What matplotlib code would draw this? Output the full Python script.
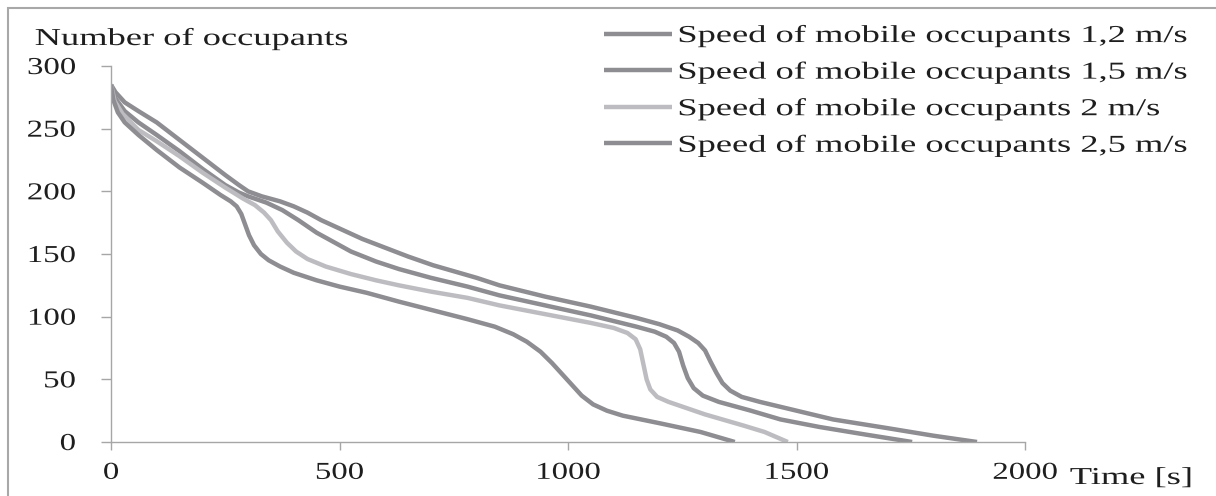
import matplotlib
matplotlib.use('Agg')
import matplotlib.pyplot as plt
import matplotlib.patheffects as pe
from matplotlib.patches import Rectangle
from matplotlib.transforms import Affine2D

# evacuation curves: number of occupants left in the building over time
t_12 = [0, 10, 30, 60, 100, 150, 200, 250, 280, 300, 330, 370, 400, 430, 460, 490, 550, 600, 650, 705,
        800, 850, 950, 1050, 1150, 1200, 1240, 1265, 1285, 1300, 1312, 1325, 1338, 1355, 1380, 1420,
        1500, 1580, 1700, 1800, 1895]
n_12 = [285, 279, 271, 264, 255, 241, 227, 213, 205, 200, 196, 192, 188, 183, 177, 172, 162, 155, 148, 141,
        131, 125, 116, 108, 99, 94, 89, 84, 79, 73, 64, 55, 47, 41, 36, 32,
        25, 18, 11, 5, 0]

t_15 = [0, 10, 30, 60, 100, 150, 200, 250, 280, 300, 340, 375, 410, 450, 490, 525, 580, 630, 700, 780,
        850, 950, 1050, 1150, 1190, 1215, 1232, 1243, 1252, 1262, 1275, 1295, 1330, 1400, 1465, 1550,
        1650, 1753]
n_15 = [285, 274, 264, 255, 245, 232, 218, 205, 199, 196, 191, 185, 177, 167, 159, 152, 144, 138, 131, 124,
        117, 109, 101, 92, 88, 84, 79, 72, 61, 51, 43, 37, 32, 25, 18, 12,
        6, 0]

t_20 = [0, 8, 25, 60, 100, 150, 200, 250, 290, 315, 335, 350, 365, 385, 405, 430, 470, 525, 580, 630,
        700, 780, 850, 950, 1050, 1100, 1130, 1148, 1158, 1165, 1172, 1180, 1195, 1220, 1260, 1300,
        1385, 1430, 1481]
n_20 = [285, 272, 262, 249, 240, 228, 215, 203, 194, 189, 183, 177, 168, 159, 152, 146, 140, 134, 129, 125,
        120, 115, 109, 102, 95, 91, 87, 82, 74, 62, 50, 42, 36, 32, 27, 22,
        13, 8, 0]

t_25 = [0, 5, 15, 30, 60, 100, 150, 200, 240, 262, 275, 285, 293, 302, 313, 328, 345, 370, 400, 450,
        500, 560, 630, 705, 780, 840, 880, 910, 940, 965, 990, 1010, 1030, 1055, 1085, 1120, 1160,
        1200, 1290, 1365]
n_25 = [285, 273, 263, 255, 245, 233, 219, 207, 197, 192, 188, 182, 174, 165, 157, 150, 145, 140, 135, 129,
        124, 119, 112, 105, 98, 92, 86, 80, 72, 63, 53, 45, 37, 30, 25, 21, 18,
        15, 8, 0]

labels = ['Speed of mobile occupants 1,2 m/s',
          'Speed of mobile occupants 1,5 m/s',
          'Speed of mobile occupants 2 m/s',
          'Speed of mobile occupants 2,5 m/s']
colors = ['#8d8d92', '#8d8d92', '#bdbdc1', '#8d8d92']

x_ticks = [0, 500, 1000, 1500, 2000]
y_ticks = [0, 50, 100, 150, 200, 250, 300]


class Stretch(pe.AbstractPathEffect):
    """Widen glyphs horizontally around a fixed point of the text."""
    def __init__(self, sx, anchor=0.0):
        super().__init__()
        self.sx = sx
        self.anchor = anchor

    def draw_path(self, renderer, gc, tpath, affine, rgbFace=None):
        ext = affine.transform_path(tpath).get_extents()
        x0 = ext.x0 + self.anchor * ext.width
        aff = affine + Affine2D().translate(-x0, 0).scale(self.sx, 1).translate(x0, 0)
        renderer.draw_path(gc, tpath, aff, rgbFace)


plt.rcParams['font.family'] = ['Liberation Serif', 'DejaVu Serif']
W, H = 1216, 496
fig = plt.figure(figsize=(W / 100, H / 100), dpi=100)
ax = fig.add_axes([111 / W, 1 - 442 / H, (1025 - 111) / W, (442 - 66) / H])

series = [(t_12, n_12), (t_15, n_15), (t_20, n_20), (t_25, n_25)]
for (t, n), lab, c in zip(series, labels, colors):
    ax.plot(t, n, color=c, lw=3.2, label=lab, solid_capstyle='butt', solid_joinstyle='round')

ax.set_xlim(0, 2000)
ax.set_ylim(0, 300)
ax.set_xticks(x_ticks)
ax.set_yticks(y_ticks)
for s in ['top', 'right']:
    ax.spines[s].set_visible(False)
for s in ['left', 'bottom']:
    ax.spines[s].set_color('#a6a6a6')
    ax.spines[s].set_linewidth(1.0)
ax.tick_params(axis='x', direction='out', length=5.5, width=1, color='#a6a6a6',
               labelsize=17.5, labelcolor='#1e1e1e', pad=9.5)
ax.tick_params(axis='y', direction='out', length=7.5, width=1, color='#a6a6a6',
               labelsize=17.5, labelcolor='#1e1e1e', pad=18)
for tk in ax.xaxis.get_major_ticks():
    tk.label1.set_path_effects([Stretch(1.35, 0.5)])
for tk in ax.yaxis.get_major_ticks():
    tk.label1.set_path_effects([Stretch(1.35, 1.0)])

fig.text(35 / W, 1 - 45 / H, 'Number of occupants', fontsize=17.5, color='#1e1e1e',
         va='baseline', ha='left', path_effects=[Stretch(1.5, 0.0)])
fig.text(1070 / W, 1 - 484 / H, 'Time [s]', fontsize=17.5, color='#1e1e1e',
         va='baseline', ha='left', path_effects=[Stretch(1.5, 0.0)])

leg = ax.legend(loc='upper left', bbox_to_anchor=(604 / W, 1 - 25 / H), bbox_transform=fig.transFigure,
                frameon=False, fontsize=17.5, handlelength=2.8, handletextpad=0.25,
                labelspacing=0.6, borderpad=0, borderaxespad=0)
for txt in leg.get_texts():
    txt.set_color('#1e1e1e')
    txt.set_path_effects([Stretch(1.5, 0.0)])

# outer frame of the chart area
fig.patches.append(Rectangle((8 / W, -0.2), 2.0, 1.2 - 8 / H, transform=fig.transFigure,
                             fill=False, edgecolor='#a8a8a8', lw=1.5, clip_on=False))

fig.savefig('out.png', dpi=100)
